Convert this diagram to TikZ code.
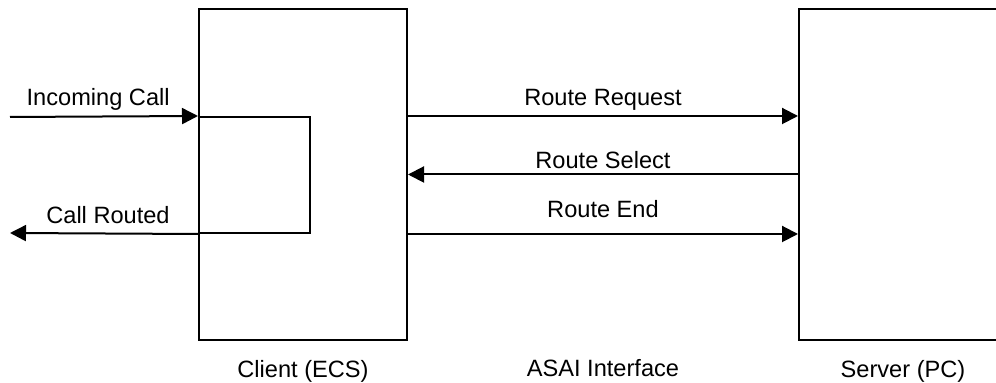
\documentclass[tikz,border=0pt]{standalone}
\usepackage{fontspec}
\setmainfont{Liberation Sans}
\usetikzlibrary{arrows.meta, positioning}

\begin{document}
\begin{tikzpicture}[x=0.5pt, y=-0.5pt, line width=1pt,
    every node/.style={font=\fontsize{11.8}{14}\selectfont},
    unit/.style={draw, minimum width=104pt, minimum height=165.5pt, inner sep=0pt},
    msg/.style={-{Triangle[length=8pt, width=8pt]}}]
  \useasboundingbox (0,0) rectangle (996,383);

  % the two ends of the interface
  \node[unit] (client) at (303,174.5) {};
  \node[unit] (server) at (903,174.5) {};
  \node[draw, minimum width=55.5pt, minimum height=58pt, inner sep=0pt]
    (relay) at (254.5,175) {};

  % outside calls
  \coordinate (callin) at (10,117);
  \coordinate (callout) at (10,233);
  \draw[msg] (callin) -- node[pos=0.89, anchor=base east, yshift=5.2pt]{Incoming Call} (relay.north west);
  \draw[msg] (relay.south west) -- node[pos=0.11, anchor=base east, yshift=5pt]{Call Routed} (callout);

  % messages between client and server
  \draw[msg] (client.east |- relay.north) -- node[anchor=base, yshift=5.3pt]{Route Request} (server.west |- relay.north);
  \draw[msg] (server.west) -- node[anchor=base, yshift=3pt]{Route Select} (client.east);
  \draw[msg] (client.east |- relay.south) -- node[anchor=base, yshift=8pt]{Route End} (server.west |- relay.south);

  % captions
  \node[anchor=base] (clientname) at ([yshift=-18.5pt]client.south) {Client (ECS)};
  \node[anchor=base] (asai) at (603,377) {ASAI Interface};
  \node[anchor=base] (servername) at ([yshift=-18.5pt]server.south) {Server (PC)};
\end{tikzpicture}
\end{document}
